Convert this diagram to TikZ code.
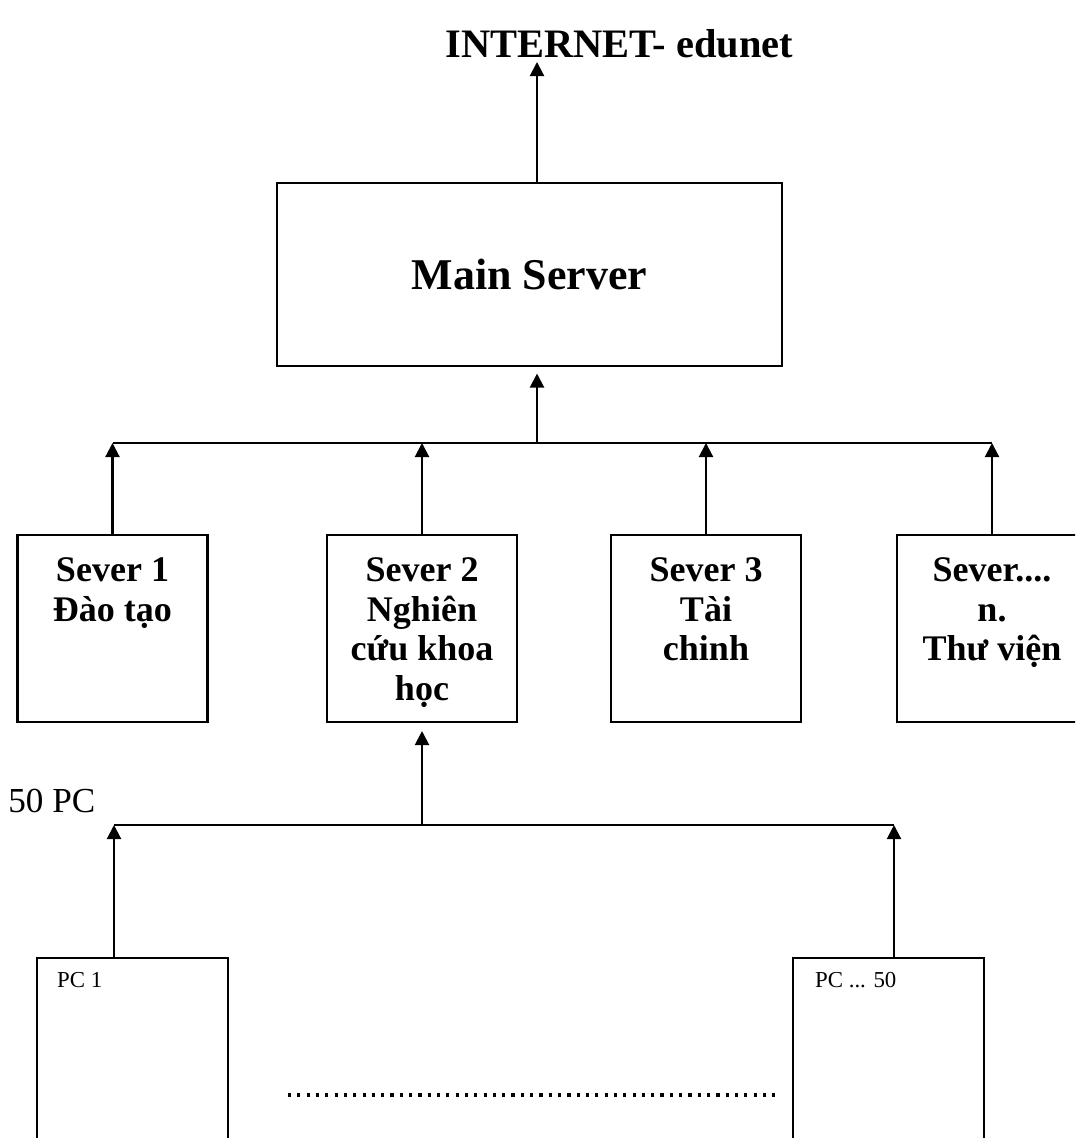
\documentclass[tikz,border=0pt]{standalone}
\usepackage{fontspec}
\setmainfont{Liberation Serif}
\usetikzlibrary{
    arrows.meta,
    positioning
}
\newcommand{\srvtxt}[1]{\parbox[c][3.74cm][t]{3.8cm}{\vspace*{0.46cm}\centering\fontsize{20.5}{22.5}\selectfont\bfseries\lineskiplimit=-20pt #1}}

\begin{document}
\begin{tikzpicture}[x=0.02cm, y=-0.02cm,
    box/.style={draw, line width=1.2pt, inner sep=0pt},
    txt/.style={inner sep=0pt},
    arr/.style={line width=1.2pt, -{Triangle[length=8pt,width=8pt]}},
    bus/.style={line width=1.2pt},
    dots/.style={line width=1.8pt, dash pattern=on 1.8pt off 3.5pt}]
    \clip (0,0) rectangle (1075,1138);
    \node[txt, anchor=base west, font=\fontsize{23}{26}\selectfont\bfseries] (inet) at (445,58) {INTERNET- edunet};
    \coordinate (itip) at (537,62);
    \node[box, minimum width=10.1cm, minimum height=3.66cm, font=\fontsize{25}{28}\selectfont\bfseries] (main) at (529.5,274.5) {Main Server};
    \coordinate (busA) at (537,443);
    \node[box] (s1) at (112.5,628.5) {\srvtxt{Sever 1\\Đào tạo}};
    \node[box] (s2) at (422,628.5) {\srvtxt{Sever 2\\Nghiên\\cứu khoa\\học}};
    \node[box] (s3) at (706,628.5) {\srvtxt{Sever 3\\Tài\\chinh}};
    \node[box] (sn) at (992,628.5) {\srvtxt{Sever....\\n.\\Thư viện}};
    \node[txt, anchor=base west, font=\fontsize{20}{24}\selectfont] (npc) at (8,812) {50 PC};
    \coordinate (busB) at (422,825);
    \coordinate (a1) at (114,825);
    \coordinate (a50) at (894,825);
    \node[box, line width=1.4pt, minimum width=3.82cm, minimum height=4cm] (pc1) at (132.5,1058) {};
    \node[box, line width=1.4pt, minimum width=3.82cm, minimum height=4cm] (pc50) at (888.5,1058) {};
    \node[txt, font=\fontsize{13}{15}\selectfont, below right=0.3cm and 0.42cm of pc1.north west] (l1) {PC 1};
    \node[txt, font=\fontsize{13}{15}\selectfont, below right=0.3cm and 0.46cm of pc50.north west] (l50) {PC ... 50};
    \coordinate (d1) at (288,1095);
    \coordinate (d2) at (778,1095);
    \draw[arr] (main.north -| busA) -- (itip);
    \draw[arr, shorten >=0.13cm] (busA) -- (busA |- main.south);
    \draw[bus] (s1.north |- busA) -- (sn.north |- busA);
    \foreach \s in {s1,s2,s3,sn}
        \draw[arr] (\s.north) -- (\s.north |- busA);
    \draw[arr, shorten >=0.16cm] (busB) -- (busB |- s2.south);
    \draw[bus] (a1) -- (a50);
    \draw[arr] (pc1.north -| a1) -- (a1);
    \draw[arr] (pc50.north -| a50) -- (a50);
    \draw[dots] (d1) -- (d2);
\end{tikzpicture}
\end{document}
